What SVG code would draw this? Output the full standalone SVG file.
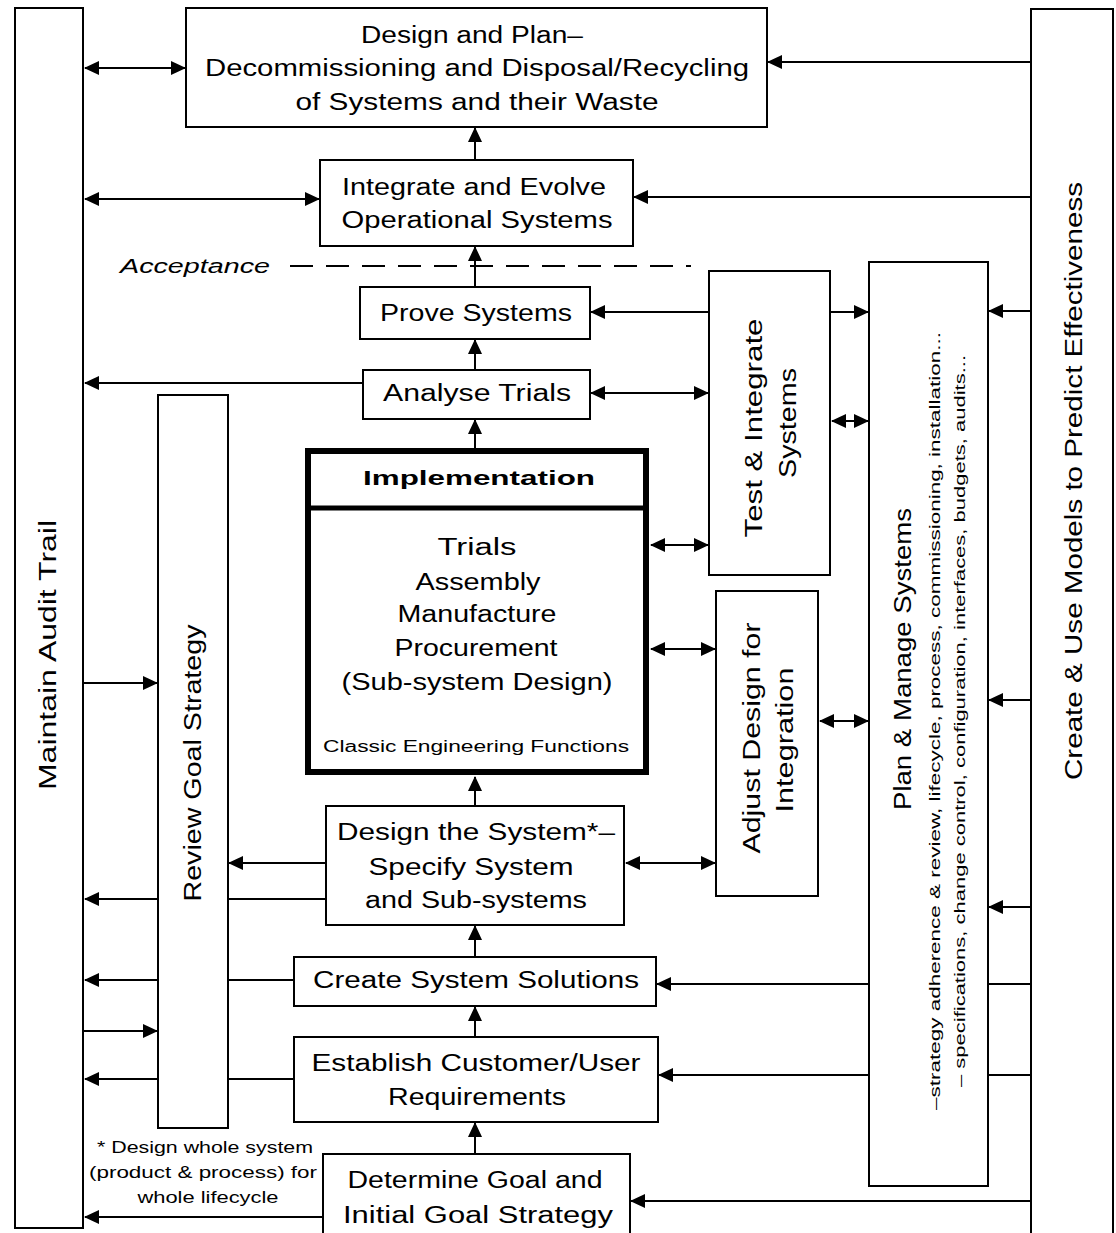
<svg xmlns="http://www.w3.org/2000/svg" width="1116" height="1233" viewBox="0 0 1116 1233">
  <style>
    .box { fill: #fff; stroke: #000; stroke-width: 2; }
    .lbl { font-family: "Liberation Sans", Arial, sans-serif; font-size: 23px; text-anchor: middle; fill: #000; }
    .small { font-size: 16px; }
    .tiny { font-size: 15px; }
    .bold { font-weight: bold; font-size: 20px; }
    .ital { font-style: italic; font-size: 20px; }
    .conn { stroke: #000; stroke-width: 2; fill: none; }
    .one { marker-end: url(#ah); }
    .two { marker-start: url(#ah); marker-end: url(#ah); }
    .dash { stroke-dasharray: 23 13; }
  </style>
  <defs>
    <marker id="ah" markerUnits="userSpaceOnUse" markerWidth="15" markerHeight="15" viewBox="0 0 15 15" refX="14" refY="7.5" orient="auto-start-reverse">
      <path d="M0,0.5 L15,7.5 L0,14.5 z" fill="#000"/>
    </marker>
  </defs>
  <rect width="1116" height="1233" fill="#fff"/>

  <!-- connectors, drawn first so the boxes mask the lines that pass behind them -->
  <g id="connectors">
    <line class="conn two" x1="85" y1="68" x2="185" y2="68"/>
    <line class="conn one" x1="1031" y1="62" x2="768" y2="62"/>
    <line class="conn one" x1="475" y1="160" x2="475" y2="128"/>
    <line class="conn two" x1="85" y1="199" x2="319" y2="199"/>
    <line class="conn one" x1="1031" y1="197" x2="634" y2="197"/>
    <line class="conn dash" x1="290" y1="266" x2="691" y2="266"/>
    <line class="conn one" x1="475" y1="287" x2="475" y2="247"/>
    <line class="conn one" x1="709" y1="312" x2="591" y2="312"/>
    <line class="conn one" x1="830" y1="312" x2="868" y2="312"/>
    <line class="conn one" x1="1031" y1="311" x2="989" y2="311"/>
    <line class="conn one" x1="475" y1="370" x2="475" y2="340"/>
    <line class="conn one" x1="363" y1="383" x2="85" y2="383"/>
    <line class="conn two" x1="591" y1="393" x2="708" y2="393"/>
    <line class="conn two" x1="832" y1="421" x2="868" y2="421"/>
    <line class="conn one" x1="475" y1="448" x2="475" y2="420"/>
    <line class="conn two" x1="651" y1="545" x2="708" y2="545"/>
    <line class="conn two" x1="651" y1="649" x2="715" y2="649"/>
    <line class="conn one" x1="83" y1="683" x2="157" y2="683"/>
    <line class="conn one" x1="1031" y1="700" x2="989" y2="700"/>
    <line class="conn two" x1="820" y1="721" x2="868" y2="721"/>
    <line class="conn one" x1="475" y1="806" x2="475" y2="777"/>
    <line class="conn one" x1="326" y1="863" x2="229" y2="863"/>
    <line class="conn two" x1="626" y1="863" x2="715" y2="863"/>
    <line class="conn one" x1="326" y1="899" x2="85" y2="899"/>
    <line class="conn one" x1="1031" y1="907" x2="989" y2="907"/>
    <line class="conn one" x1="475" y1="957" x2="475" y2="926"/>
    <line class="conn one" x1="294" y1="980" x2="85" y2="980"/>
    <line class="conn one" x1="1031" y1="984" x2="657" y2="984"/>
    <line class="conn one" x1="83" y1="1031" x2="157" y2="1031"/>
    <line class="conn one" x1="475" y1="1037" x2="475" y2="1007"/>
    <line class="conn one" x1="294" y1="1079" x2="85" y2="1079"/>
    <line class="conn one" x1="1031" y1="1075" x2="659" y2="1075"/>
    <line class="conn one" x1="475" y1="1154" x2="475" y2="1123"/>
    <line class="conn one" x1="323" y1="1217" x2="85" y2="1217"/>
    <line class="conn one" x1="1031" y1="1201" x2="631" y2="1201"/>
  </g>

  <g id="audit-trail">
    <rect class="box" x="15" y="8" width="68" height="1220"/>
    <text class="lbl" transform="translate(56,655) rotate(-90)" textLength="270" lengthAdjust="spacingAndGlyphs">Maintain Audit Trail</text>
  </g>

  <g id="models">
    <rect class="box" x="1031" y="9" width="82" height="1240"/>
    <text class="lbl" transform="translate(1082,481) rotate(-90)" textLength="598" lengthAdjust="spacingAndGlyphs">Create &amp; Use Models to Predict Effectiveness</text>
  </g>

  <g id="decommissioning">
    <rect class="box" x="186" y="8" width="581" height="119"/>
    <text class="lbl" x="472" y="43" textLength="222" lengthAdjust="spacingAndGlyphs">Design and Plan–</text>
    <text class="lbl" x="477" y="76" textLength="544" lengthAdjust="spacingAndGlyphs">Decommissioning and Disposal/Recycling</text>
    <text class="lbl" x="477" y="110" textLength="363" lengthAdjust="spacingAndGlyphs">of Systems and their Waste</text>
  </g>

  <g id="integrate-evolve">
    <rect class="box" x="320" y="160" width="313" height="86"/>
    <text class="lbl" x="474" y="195" textLength="264" lengthAdjust="spacingAndGlyphs">Integrate and Evolve</text>
    <text class="lbl" x="477" y="228" textLength="271" lengthAdjust="spacingAndGlyphs">Operational Systems</text>
  </g>

  <g id="acceptance">
    <text class="lbl ital" x="195" y="273" textLength="150" lengthAdjust="spacingAndGlyphs">Acceptance</text>
  </g>

  <g id="prove-systems">
    <rect class="box" x="360" y="287" width="230" height="52"/>
    <text class="lbl" x="476" y="321" textLength="192" lengthAdjust="spacingAndGlyphs">Prove Systems</text>
  </g>

  <g id="analyse-trials">
    <rect class="box" x="363" y="370" width="227" height="49"/>
    <text class="lbl" x="477" y="401" textLength="188" lengthAdjust="spacingAndGlyphs">Analyse Trials</text>
  </g>

  <g id="implementation">
    <rect x="308" y="451" width="338" height="321" fill="#fff" stroke="#000" stroke-width="6"/>
    <line x1="308" y1="508" x2="646" y2="508" stroke="#000" stroke-width="5"/>
    <text class="lbl bold" x="479" y="485" textLength="232" lengthAdjust="spacingAndGlyphs">Implementation</text>
    <text class="lbl" x="477" y="555" textLength="79" lengthAdjust="spacingAndGlyphs">Trials</text>
    <text class="lbl" x="478" y="590" textLength="125" lengthAdjust="spacingAndGlyphs">Assembly</text>
    <text class="lbl" x="477" y="622" textLength="159" lengthAdjust="spacingAndGlyphs">Manufacture</text>
    <text class="lbl" x="476" y="656" textLength="163" lengthAdjust="spacingAndGlyphs">Procurement</text>
    <text class="lbl" x="477" y="690" textLength="271" lengthAdjust="spacingAndGlyphs">(Sub-system Design)</text>
    <text class="lbl small" x="476" y="752" textLength="306" lengthAdjust="spacingAndGlyphs">Classic Engineering Functions</text>
  </g>

  <g id="test-integrate">
    <rect class="box" x="709" y="271" width="121" height="304"/>
    <text class="lbl" transform="translate(762,428) rotate(-90)" textLength="219" lengthAdjust="spacingAndGlyphs">Test &amp; Integrate</text>
    <text class="lbl" transform="translate(796,423) rotate(-90)" textLength="110" lengthAdjust="spacingAndGlyphs">Systems</text>
  </g>

  <g id="adjust-design">
    <rect class="box" x="716" y="591" width="102" height="305"/>
    <text class="lbl" transform="translate(760,738) rotate(-90)" textLength="231" lengthAdjust="spacingAndGlyphs">Adjust Design for</text>
    <text class="lbl" transform="translate(793,740) rotate(-90)" textLength="145" lengthAdjust="spacingAndGlyphs">Integration</text>
  </g>

  <g id="plan-manage">
    <rect class="box" x="869" y="262" width="119" height="924"/>
    <text class="lbl" transform="translate(911,659) rotate(-90)" textLength="302" lengthAdjust="spacingAndGlyphs">Plan &amp; Manage Systems</text>
    <text class="lbl tiny" transform="translate(940,721) rotate(-90)" textLength="778" lengthAdjust="spacingAndGlyphs">–strategy adherence &amp; review, lifecycle, process, commissioning, installation...</text>
    <text class="lbl tiny" transform="translate(965,721) rotate(-90)" textLength="732" lengthAdjust="spacingAndGlyphs">– specifications, change control, configuration, interfaces, budgets, audits...</text>
  </g>

  <g id="review-goal">
    <rect class="box" x="158" y="395" width="70" height="733"/>
    <text class="lbl" transform="translate(201,763) rotate(-90)" textLength="277" lengthAdjust="spacingAndGlyphs">Review Goal Strategy</text>
  </g>

  <g id="design-system">
    <rect class="box" x="326" y="806" width="298" height="119"/>
    <text class="lbl" x="476" y="840" textLength="278" lengthAdjust="spacingAndGlyphs">Design the System*–</text>
    <text class="lbl" x="471" y="875" textLength="205" lengthAdjust="spacingAndGlyphs">Specify System</text>
    <text class="lbl" x="476" y="908" textLength="222" lengthAdjust="spacingAndGlyphs">and Sub-systems</text>
  </g>

  <g id="create-solutions">
    <rect class="box" x="294" y="957" width="362" height="49"/>
    <text class="lbl" x="476" y="988" textLength="326" lengthAdjust="spacingAndGlyphs">Create System Solutions</text>
  </g>

  <g id="establish-requirements">
    <rect class="box" x="294" y="1037" width="364" height="85"/>
    <text class="lbl" x="476" y="1071" textLength="329" lengthAdjust="spacingAndGlyphs">Establish Customer/User</text>
    <text class="lbl" x="477" y="1105" textLength="178" lengthAdjust="spacingAndGlyphs">Requirements</text>
  </g>

  <g id="determine-goal">
    <rect class="box" x="323" y="1154" width="307" height="100"/>
    <text class="lbl" x="475" y="1188" textLength="255" lengthAdjust="spacingAndGlyphs">Determine Goal and</text>
    <text class="lbl" x="478" y="1223" textLength="270" lengthAdjust="spacingAndGlyphs">Initial Goal Strategy</text>
  </g>

  <g id="footnote">
    <text class="lbl small" x="205" y="1153" textLength="216" lengthAdjust="spacingAndGlyphs">* Design whole system</text>
    <text class="lbl small" x="203" y="1178" textLength="228" lengthAdjust="spacingAndGlyphs">(product &amp; process) for</text>
    <text class="lbl small" x="208" y="1203" textLength="141" lengthAdjust="spacingAndGlyphs">whole lifecycle</text>
  </g>
</svg>
